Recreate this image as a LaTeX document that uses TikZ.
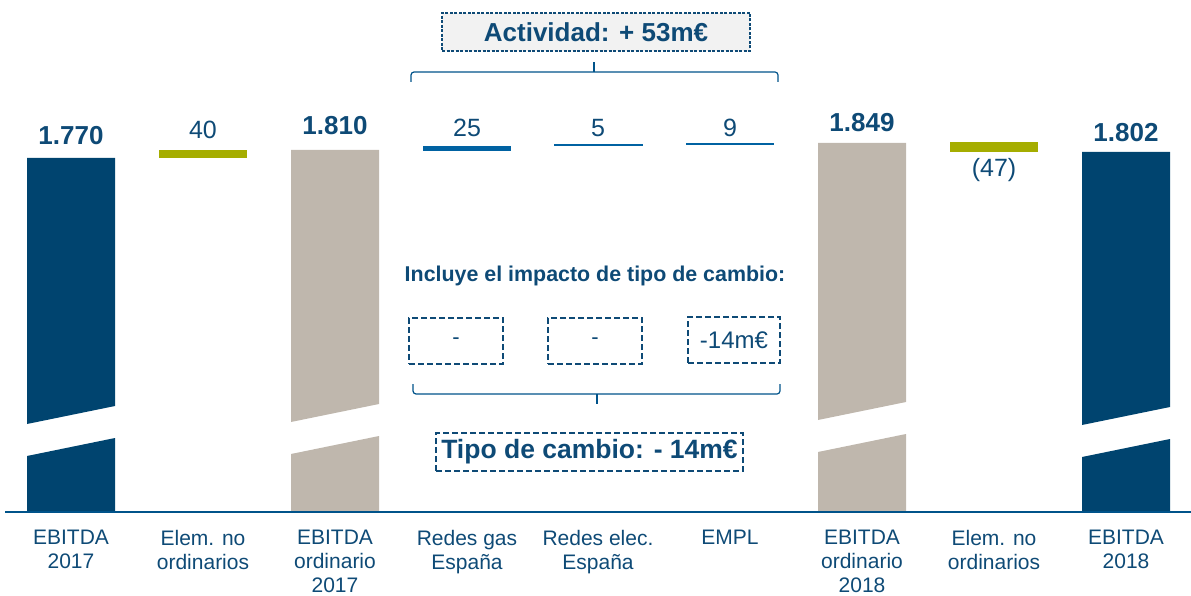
\documentclass[tikz,border=0pt]{standalone}
\usepackage{fontspec}
\setmainfont{Liberation Sans}
\usepackage{tikz}

\definecolor{ebitdablue}{HTML}{00446F}
\definecolor{ordgrey}{HTML}{BFB7AD}
\definecolor{oneoff}{HTML}{A5AD00}
\definecolor{actblue}{HTML}{0062A2}
\definecolor{txtblue}{HTML}{0E4A76}
\definecolor{boxfill}{HTML}{F2F2F2}

\tikzset{
  total/.style={text=txtblue,inner sep=0pt,font=\bfseries\fontsize{26}{30}\selectfont},
  delta/.style={text=txtblue,inner sep=0pt,font=\fontsize{25}{29}\selectfont},
  cat/.style={text=txtblue,inner sep=0pt,anchor=north,align=center,font=\fontsize{21}{24}\selectfont},
  fxbox/.style={draw=txtblue,line width=2.6pt,dash pattern=on 6pt off 3pt,text=txtblue,
    minimum width=94pt,minimum height=46pt,inner sep=0pt,font=\fontsize{22}{26}\selectfont},
  bracket/.style={draw=actblue!85!black,line width=1.2pt,rounded corners=3pt}
}

\begin{document}
\begin{tikzpicture}[x=1pt,y=-1pt]
  \useasboundingbox (0,0) rectangle (1191,596);

  % Broken bars (totals)
  \foreach \xl/\yt/\yb/\col in {27/158/424/ebitdablue,291/150/422/ordgrey,818/143/420/ordgrey,1082/152/425/ebitdablue}{
    \fill[\col] (\xl,\yt) -- (\xl+88,\yt) -- (\xl+88,\yb-18) -- (\xl,\yb) -- cycle;
    \fill[\col] (\xl,\yb+32) -- (\xl+88,\yb+14) -- (\xl+88,512) -- (\xl,512) -- cycle;
  }

  % Floating steps
  \fill[oneoff] (159,150) rectangle (247,158);
  \fill[oneoff] (950,142) rectangle (1038,152);
  \fill[actblue] (423,146) rectangle (511,151);
  \fill[actblue] (554,143.8) rectangle (643,145.8);
  \fill[actblue] (686,142.8) rectangle (774,144.8);

  % Axis
  \draw[actblue!85!black,line width=1.8pt] (5,512) -- (1191,512);

  % Values
  \node[total] (v1) at (71,136) {1.770};
  \node[delta] (v2) at (203,130) {40};
  \node[total] (v3) at (335,126) {1.810};
  \node[delta] (v4) at (467,128) {25};
  \node[delta] (v5) at (598,128) {5};
  \node[delta] (v6) at (730,128) {9};
  \node[total] (v7) at (862,123) {1.849};
  \node[delta] (v8) at (994,170) {(47)};
  \node[total] (v9) at (1126,133) {1.802};

  % Categories
  \node[cat] (c1) at (71,530) {EBITDA\\2017};
  \node[cat] (c2) at (203,530) {Elem. no\\ordinarios};
  \node[cat] (c3) at (335,530) {EBITDA\\ordinario\\2017};
  \node[cat] (c4) at (467,530) {Redes gas\\España};
  \node[cat] (c5) at (598,530) {Redes elec.\\España};
  \node[cat] (c6) at (730,530) {EMPL};
  \node[cat] (c7) at (862,530) {EBITDA\\ordinario\\2018};
  \node[cat] (c8) at (994,530) {Elem. no\\ordinarios};
  \node[cat] (c9) at (1126,530) {EBITDA\\2018};

  % Activity
  \node[draw=txtblue,fill=boxfill,line width=1.1pt,dash pattern=on 3pt off 1.5pt,
    minimum width=308pt,minimum height=38pt,inner sep=0pt,text=txtblue,
    font=\bfseries\fontsize{26}{30}\selectfont] (act) at (596,32) {Actividad: + 53m€};
  \draw[bracket] (411,82) -- (411,72) -- (778,72) -- (778,82);
  \draw[bracket] (594,72) -- (594,62);

  % Exchange rate
  \node[text=txtblue,inner sep=0pt,font=\bfseries\fontsize{21.4}{25}\selectfont] (incl) at (595,276)
    {Incluye el impacto de tipo de cambio:};
  \node[fxbox] (fx1) at (456,341) {-};
  \node[fxbox] (fx2) at (595,341) {-};
  \node[fxbox,minimum width=92pt,font=\fontsize{24}{28}\selectfont] (fx3) at (734,340) {-14m€};
  \draw[bracket] (413,384) -- (413,394) -- (780,394) -- (780,384);
  \draw[bracket] (597,394) -- (597,404);
  \node[fxbox,minimum width=307pt,minimum height=38pt,
    font=\bfseries\fontsize{26.5}{30}\selectfont] (fx) at (589.5,452) {Tipo de cambio: - 14m€};
\end{tikzpicture}
\end{document}
